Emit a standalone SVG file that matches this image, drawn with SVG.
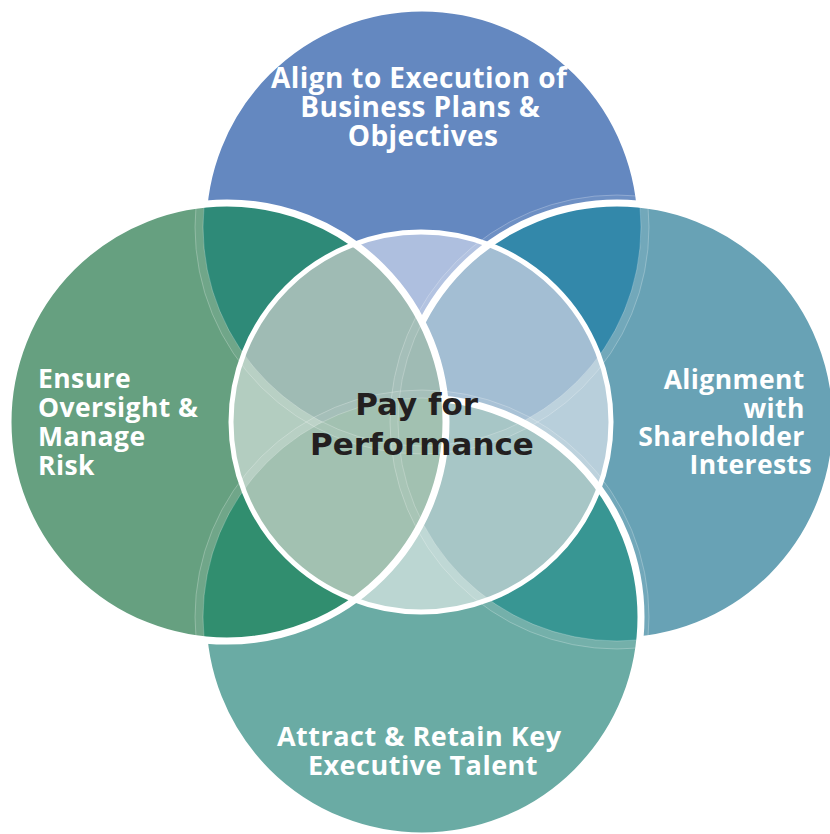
<svg xmlns="http://www.w3.org/2000/svg" xmlns:xlink="http://www.w3.org/1999/xlink" width="830" height="834" viewBox="0 0 830 834">
  <defs>
    <!-- the four outer circles and the central circle -->
    <circle id="cT" cx="422" cy="227" r="219"/>
    <circle id="cR" cx="617" cy="422" r="219"/>
    <circle id="cB" cx="422" cy="617" r="219"/>
    <circle id="cL" cx="227" cy="422" r="219"/>
    <circle id="cC" cx="421" cy="422" r="190"/>
    <clipPath id="clipT"><use href="#cT"/></clipPath>
    <clipPath id="clipR"><use href="#cR"/></clipPath>
    <clipPath id="clipB"><use href="#cB"/></clipPath>
    <clipPath id="clipC"><use href="#cC"/></clipPath>
    <!-- soft rings where a lower circle's outline shows through the circle above it -->
    <g id="ghostRings" fill="none" stroke="#fff">
      <g stroke-width="8" stroke-opacity="0.07">
        <circle cx="422" cy="227" r="223"/>
        <circle cx="617" cy="422" r="223"/>
        <circle cx="422" cy="617" r="223"/>
      </g>
      <g stroke-width="0.7" stroke-opacity="0.35">
        <circle cx="422" cy="227" r="219"/>
        <circle cx="422" cy="227" r="227"/>
        <circle cx="617" cy="422" r="219"/>
        <circle cx="617" cy="422" r="227"/>
        <circle cx="422" cy="617" r="219"/>
        <circle cx="422" cy="617" r="227"/>
      </g>
    </g>
  </defs>
  <style>
    .edge { fill: none; stroke: #fff; stroke-width: 7; }
    .label { font-family: "Open Sans", "Liberation Sans", sans-serif; font-weight: 700; fill: #fff; }
    .hub { font-family: "DejaVu Sans", "Open Sans", sans-serif; font-weight: 700; fill: #231f20; }
  </style>

  <rect width="830" height="834" fill="#fff"/>

  <!-- outer circles, painted bottom to top: top, right, bottom, left -->
  <g id="node-top">
    <use href="#cT" fill="#6488c0"/>
    <use href="#cT" class="edge"/>
  </g>
  <g id="node-right">
    <use href="#cR" fill="#68a2b5"/>
    <use href="#cR" fill="#3388aa" clip-path="url(#clipT)"/>
    <use href="#cR" class="edge"/>
  </g>
  <g id="node-bottom">
    <use href="#cB" fill="#6aaba4"/>
    <use href="#cB" fill="#389693" clip-path="url(#clipR)"/>
    <use href="#cB" class="edge"/>
  </g>
  <g id="node-left">
    <use href="#cL" fill="#66a080"/>
    <use href="#cL" fill="#2e8a78" clip-path="url(#clipT)"/>
    <use href="#cL" fill="#318e6f" clip-path="url(#clipB)"/>
    <use href="#cL" class="edge"/>
  </g>
  <use href="#ghostRings"/>

  <!-- central circle: the same overlaps in lighter tints -->
  <g id="node-center">
    <g clip-path="url(#clipC)">
      <use href="#cT" fill="#aebfdf"/>
      <use href="#cT" class="edge"/>
      <use href="#cR" fill="#b8cfdb"/>
      <use href="#cR" fill="#a3bed3" clip-path="url(#clipT)"/>
      <use href="#cR" class="edge"/>
      <use href="#cB" fill="#bbd6d2"/>
      <use href="#cB" fill="#a7c6c6" clip-path="url(#clipR)"/>
      <use href="#cB" class="edge"/>
      <use href="#cL" fill="#b3cdc0"/>
      <use href="#cL" fill="#9fbbb4" clip-path="url(#clipT)"/>
      <use href="#cL" fill="#a2c1b1" clip-path="url(#clipB)"/>
      <use href="#cL" class="edge"/>
      <use href="#ghostRings"/>
    </g>
    <use href="#cC" fill="none" stroke="#fff" stroke-width="5"/>
    <text class="hub" font-size="31" text-anchor="middle">
      <tspan x="422" y="415">Pay for</tspan>
      <tspan x="422" y="455">Performance</tspan>
    </text>
  </g>

  <!-- circle labels -->
  <g id="label-top">
    <text class="label" font-size="28" text-anchor="middle" letter-spacing="0.4">
      <tspan x="423" y="88">Align to Execution of</tspan>
      <tspan x="424" y="117">Business Plans &amp;</tspan>
      <tspan x="423" y="146">Objectives</tspan>
    </text>
  </g>
  <g id="label-left">
    <text class="label" font-size="26.5" letter-spacing="0.4">
      <tspan x="38" y="388">Ensure</tspan>
      <tspan x="38" y="417">Oversight &amp;</tspan>
      <tspan x="38" y="446">Manage</tspan>
      <tspan x="38" y="475">Risk</tspan>
    </text>
  </g>
  <g id="label-right">
    <text class="label" font-size="26.5" text-anchor="end" letter-spacing="0.4">
      <tspan x="812" y="389">Alignment</tspan>
      <tspan x="812" y="418">with</tspan>
      <tspan x="812" y="446">Shareholder</tspan>
      <tspan x="812" y="474">Interests</tspan>
    </text>
  </g>
  <g id="label-bottom">
    <text class="label" font-size="27" text-anchor="middle" letter-spacing="0.5">
      <tspan x="423" y="746">Attract &amp; Retain Key</tspan>
      <tspan x="423" y="775">Executive Talent</tspan>
    </text>
  </g>

  <!-- the diagram has no connectors -->
  <g id="connectors"/>
</svg>
